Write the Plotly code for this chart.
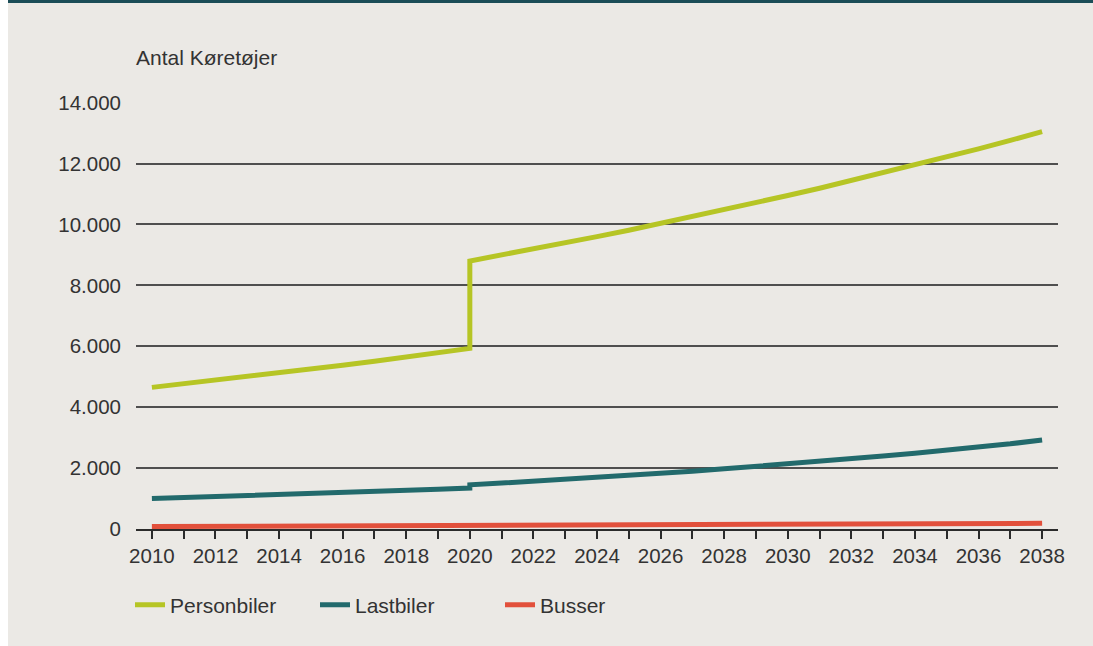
import plotly.graph_objects as go

# x positions (2020 appears twice to draw the vertical jump)
years = [2010, 2011, 2012, 2013, 2014, 2015, 2016, 2017, 2018, 2019, 2020,
         2020, 2021, 2022, 2023, 2024, 2025, 2026, 2027, 2028, 2029, 2030,
         2031, 2032, 2033, 2034, 2035, 2036, 2037, 2038]

personbiler = [4650, 4765, 4880, 5000, 5120, 5245, 5375, 5505, 5640, 5780, 5930,
               8800, 8990, 9190, 9390, 9600, 9810, 10030, 10250, 10480, 10710, 10950,
               11190, 11440, 11690, 11950, 12210, 12480, 12760, 13050]

lastbiler = [1000, 1030, 1061, 1093, 1126, 1160, 1195, 1231, 1268, 1306, 1345,
             1450, 1507, 1566, 1628, 1692, 1759, 1828, 1900, 1975, 2053, 2134,
             2218, 2305, 2396, 2490, 2588, 2690, 2796, 2925]

busser = [80, 83, 86, 89, 92, 95, 98, 101, 104, 107, 110,
          112, 116, 120, 124, 128, 132, 136, 140, 144, 148, 152,
          156, 160, 164, 168, 172, 176, 181, 187]

series = [("Personbiler", personbiler, "#b6c525"),
          ("Lastbiler", lastbiler, "#226a6c"),
          ("Busser", busser, "#e2503b")]

W, H = 1093, 646
L, R, T, B = 136, 35, 102, 117
pw, ph = W - L - R, H - T - B

def px_x(x):
    return (x - L) / pw

def px_y(y):
    return (H - B - y) / ph

FONT = "Liberation Sans"
TXT = "#333333"

fig = go.Figure()
for name, vals, col in series:
    fig.add_trace(go.Scatter(x=years, y=vals, mode="lines", name=name,
                             line=dict(color=col, width=5)))

fig.update_layout(
    width=W, height=H,
    margin=dict(l=L, r=R, t=T, b=B),
    paper_bgcolor="#ebe9e5",
    plot_bgcolor="#ebe9e5",
    separators=",.",
    font=dict(family=FONT, size=20.5, color=TXT),
    showlegend=True,
    legend=dict(orientation="h", x=px_x(130), xanchor="left",
                y=px_y(605), yanchor="middle",
                font=dict(family=FONT, size=21, color=TXT),
                entrywidth=140, entrywidthmode="pixels",
                bgcolor="rgba(0,0,0,0)"),
    xaxis=dict(range=[2009.5, 2038.5], tick0=2010, dtick=2,
               showgrid=False, zeroline=False,
               showline=True, linecolor="#2b2b2b", linewidth=1.5,
               ticks="outside", ticklen=8, tickcolor="#2b2b2b", tickwidth=1.5,
               minor=dict(dtick=1, tick0=2010, ticks="outside", ticklen=8,
                          tickcolor="#2b2b2b", tickwidth=1.5, showgrid=False),
               tickfont=dict(family=FONT, size=20.5, color=TXT)),
    yaxis=dict(range=[0, 14020], tick0=0, dtick=2000, tickformat=",d",
               showgrid=True, gridcolor="#4f4f4f", gridwidth=1.5,
               zeroline=False, showline=False, ticks="",
               ticklabelstandoff=14,
               tickfont=dict(family=FONT, size=20.5, color=TXT)),
    shapes=[
        dict(type="rect", xref="paper", yref="paper",
             x0=px_x(0), x1=px_x(8), y0=px_y(H), y1=px_y(0),
             fillcolor="white", line=dict(width=0), layer="below"),
        dict(type="rect", xref="paper", yref="paper",
             x0=px_x(8), x1=px_x(W), y0=px_y(3), y1=px_y(0),
             fillcolor="#1b4d57", line=dict(width=0), layer="above"),
    ],
    annotations=[
        dict(text="Antal Køretøjer", xref="paper", yref="paper",
             x=px_x(134), y=px_y(57), xanchor="left", yanchor="middle",
             showarrow=False, font=dict(family=FONT, size=21, color=TXT)),
    ],
)

fig.write_html("out.html")
